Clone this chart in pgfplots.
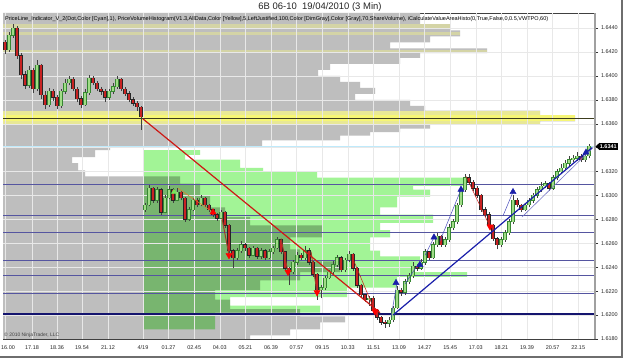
\documentclass[border=0pt]{standalone}
\usepackage{fontspec}
\setmainfont{Liberation Sans}
\usepackage{graphicx}
\usepackage{pgfplots}
\pgfplotsset{compat=1.18}
\usepackage{pgfplotstable}

\definecolor{histgray}{RGB}{190,190,190}
\definecolor{khaki}{RGB}{212,212,166}
\definecolor{yelA}{RGB}{232,232,150}
\definecolor{yelB}{RGB}{246,246,118}
\definecolor{lgreen}{RGB}{162,244,150}
\definecolor{navyl}{RGB}{85,85,160}
\definecolor{navyd}{RGB}{20,20,110}
\definecolor{upo}{RGB}{55,135,50}
\definecolor{upc}{RGB}{160,220,135}
\definecolor{dnc}{RGB}{200,35,35}
\definecolor{gridc}{RGB}{232,232,232}
\definecolor{redl}{RGB}{205,25,20}
\definecolor{bluel}{RGB}{25,30,170}
\definecolor{framec}{RGB}{110,110,110}

\pgfplotstableread{
x o h l c
9 1.6422 1.6437 1.6420 1.6434
13 1.6434 1.6443 1.6432 1.6440
29 1.6392 1.6408 1.6390 1.6405
37 1.6389 1.6413 1.6387 1.6409
49 1.6376 1.6390 1.6374 1.6387
61 1.6375 1.6389 1.6373 1.6387
65 1.6387 1.6397 1.6385 1.6394
69 1.6394 1.6400 1.6392 1.6397
85 1.6376 1.6389 1.6375 1.6386
89 1.6386 1.6401 1.6384 1.6398
109 1.6382 1.6389 1.6380 1.6387
113 1.6387 1.6394 1.6385 1.6391
117 1.6391 1.6400 1.6389 1.6397
145 1.6288 1.6294 1.6286 1.6292
149 1.6292 1.6309 1.6291 1.6306
157 1.6296 1.6307 1.6294 1.6305
165 1.6286 1.6300 1.6285 1.6298
169 1.6298 1.6308 1.6297 1.6305
177 1.6296 1.6306 1.6295 1.6303
189 1.6280 1.6290 1.6279 1.6288
193 1.6288 1.6298 1.6287 1.6296
201 1.6292 1.6300 1.6291 1.6298
221 1.6281 1.6288 1.6280 1.6286
237 1.6248 1.6256 1.6246 1.6254
241 1.6254 1.6262 1.6252 1.6259
253 1.6250 1.6258 1.6249 1.6256
261 1.6249 1.6256 1.6247 1.6254
269 1.6248 1.6255 1.6247 1.6253
273 1.6253 1.6258 1.6251 1.6256
277 1.6256 1.6265 1.6255 1.6263
293 1.6236 1.6246 1.6234 1.6244
297 1.6244 1.6253 1.6242 1.6250
305 1.6248 1.6258 1.6246 1.6254
321 1.6221 1.6225 1.6214 1.6223
325 1.6223 1.6233 1.6221 1.6231
329 1.6231 1.6238 1.6230 1.6236
333 1.6236 1.6245 1.6234 1.6242
337 1.6242 1.6250 1.6240 1.6248
345 1.6238 1.6248 1.6236 1.6246
349 1.6246 1.6254 1.6244 1.6251
369 1.6213 1.6216 1.6208 1.6214
389 1.6193 1.6198 1.6190 1.6196
393 1.6196 1.6208 1.6194 1.6206
397 1.6206 1.6224 1.6205 1.6221
405 1.6219 1.6230 1.6217 1.6228
409 1.6228 1.6235 1.6226 1.6233
413 1.6233 1.6244 1.6231 1.6241
421 1.6239 1.6247 1.6238 1.6244
425 1.6244 1.6255 1.6242 1.6253
433 1.6248 1.6261 1.6247 1.6259
437 1.6259 1.6269 1.6257 1.6266
445 1.6259 1.6265 1.6257 1.6263
449 1.6263 1.6276 1.6261 1.6273
453 1.6273 1.6280 1.6271 1.6278
457 1.6278 1.6294 1.6276 1.6292
461 1.6292 1.6307 1.6290 1.6305
465 1.6305 1.6318 1.6303 1.6315
501 1.6259 1.6265 1.6257 1.6263
505 1.6263 1.6271 1.6261 1.6269
509 1.6269 1.6280 1.6267 1.6278
513 1.6278 1.6300 1.6276 1.6296
525 1.6288 1.6294 1.6287 1.6292
529 1.6292 1.6298 1.6290 1.6296
533 1.6296 1.6302 1.6294 1.6300
537 1.6300 1.6307 1.6298 1.6305
541 1.6305 1.6311 1.6303 1.6308
545 1.6308 1.6312 1.6306 1.6310
553 1.6306 1.6317 1.6305 1.6315
557 1.6315 1.6322 1.6313 1.6320
561 1.6320 1.6326 1.6318 1.6323
565 1.6323 1.6330 1.6321 1.6327
569 1.6327 1.6333 1.6325 1.6330
573 1.6330 1.6334 1.6328 1.6331
577 1.6331 1.6336 1.6329 1.6333
585 1.6330 1.6336 1.6328 1.6333
589 1.6333 1.6343 1.6331 1.6341
}\upcandles

\pgfplotstableread{
x o h l c
5 1.6428 1.6430 1.6418 1.6422
17 1.6440 1.6442 1.6414 1.6417
21 1.6417 1.6419 1.6397 1.6401
25 1.6401 1.6404 1.6389 1.6392
33 1.6405 1.6407 1.6386 1.6389
41 1.6409 1.6410 1.6381 1.6384
45 1.6384 1.6387 1.6372 1.6376
53 1.6387 1.6389 1.6379 1.6382
57 1.6382 1.6384 1.6372 1.6375
73 1.6397 1.6399 1.6387 1.6389
77 1.6389 1.6391 1.6378 1.6381
81 1.6381 1.6383 1.6373 1.6376
93 1.6398 1.6400 1.6392 1.6394
97 1.6394 1.6396 1.6387 1.6389
101 1.6389 1.6391 1.6384 1.6387
105 1.6387 1.6389 1.6378 1.6382
121 1.6397 1.6398 1.6387 1.6389
125 1.6389 1.6391 1.6383 1.6385
129 1.6385 1.6387 1.6378 1.6380
133 1.6380 1.6382 1.6375 1.6377
137 1.6377 1.6379 1.6371 1.6374
141 1.6374 1.6375 1.6355 1.6366
153 1.6306 1.6307 1.6294 1.6296
161 1.6305 1.6306 1.6284 1.6286
173 1.6305 1.6306 1.6294 1.6296
181 1.6303 1.6304 1.6296 1.6298
185 1.6298 1.6299 1.6278 1.6280
197 1.6296 1.6298 1.6290 1.6292
205 1.6298 1.6299 1.6290 1.6292
209 1.6292 1.6293 1.6286 1.6288
213 1.6288 1.6289 1.6282 1.6284
217 1.6284 1.6285 1.6279 1.6281
225 1.6286 1.6287 1.6273 1.6275
229 1.6275 1.6276 1.6252 1.6254
233 1.6254 1.6255 1.6239 1.6248
245 1.6259 1.6260 1.6254 1.6256
249 1.6256 1.6257 1.6248 1.6250
257 1.6256 1.6257 1.6247 1.6249
265 1.6254 1.6255 1.6246 1.6248
281 1.6263 1.6264 1.6251 1.6253
285 1.6253 1.6254 1.6237 1.6239
289 1.6239 1.6240 1.6225 1.6236
301 1.6250 1.6252 1.6246 1.6248
309 1.6254 1.6256 1.6242 1.6244
313 1.6244 1.6245 1.6232 1.6234
317 1.6234 1.6235 1.6213 1.6221
341 1.6248 1.6249 1.6236 1.6238
353 1.6251 1.6252 1.6237 1.6239
357 1.6239 1.6240 1.6223 1.6225
361 1.6225 1.6226 1.6215 1.6217
365 1.6217 1.6218 1.6211 1.6213
373 1.6214 1.6216 1.6202 1.6204
377 1.6204 1.6205 1.6196 1.6198
381 1.6198 1.6199 1.6192 1.6194
385 1.6194 1.6196 1.6189 1.6193
401 1.6221 1.6223 1.6216 1.6219
417 1.6241 1.6243 1.6237 1.6239
429 1.6253 1.6254 1.6246 1.6248
441 1.6266 1.6267 1.6257 1.6259
469 1.6315 1.6318 1.6309 1.6311
473 1.6311 1.6313 1.6304 1.6306
477 1.6306 1.6308 1.6298 1.6300
481 1.6300 1.6301 1.6286 1.6288
485 1.6288 1.6290 1.6282 1.6284
489 1.6284 1.6286 1.6273 1.6275
493 1.6275 1.6276 1.6262 1.6264
497 1.6264 1.6265 1.6255 1.6259
517 1.6296 1.6298 1.6290 1.6292
521 1.6292 1.6293 1.6286 1.6288
549 1.6310 1.6311 1.6304 1.6306
581 1.6333 1.6335 1.6328 1.6330
}\downcandles

\begin{document}
\begin{tikzpicture}
\useasboundingbox (0,0) rectangle (625bp,361bp);
\fill[white] (0,0) rectangle (625bp,361bp);
\begin{axis}[
  scale only axis, width=592bp, height=326bp,
  at={(3bp,22bp)}, anchor=south west,
  xmin=3, xmax=595, ymin=1.618, ymax=1.64526,
  axis background/.style={fill=white},
  axis line style={draw=black!75, line width=0.6bp},
  xtick={5,32,57,82,108,143,168.6,194.2,219.8,245.4,271,296.6,322.2,347.8,373.4,399,424.6,450.2,475.8,501.4,527,552.6,578.2},
  xticklabels={{\hspace*{6bp}16.00},17.18,18.36,19.54,21.12,4/19,01.27,02.45,04.03,05.21,06.39,07.57,09.15,10.33,11.51,13.09,14.27,15.45,17.03,18.21,19.39,20.57,22.15},
  xtick style={draw=none},
  ytick={1.618,1.620,1.622,1.624,1.626,1.628,1.630,1.632,1.634,1.636,1.638,1.640,1.642,1.644},
  yticklabels={1.6180,1.6200,1.6220,1.6240,1.6260,1.6280,1.6300,1.6320,1.6340,1.6360,1.6380,1.6400,1.6420,1.6440},
  scaled y ticks=false,
  ytick pos=right, yticklabel pos=right,
  tick align=outside, major tick length=3bp,
  ytick style={draw=black!80, line width=0.4bp},
  tick label style={font=\fontsize{5.5}{6}\selectfont, text=black!85},
  yticklabel style={xshift=-0.5bp},
]
% session 1 volume histogram (gray)
\addplot[fill=histgray, draw=none] coordinates {
(3,1.64526) (420,1.64526) (420,1.6443) (450,1.6443) (450,1.6438) (460,1.6438) (460,1.6433)
(430,1.6433) (430,1.6428) (390,1.6428) (390,1.6423) (487,1.6423) (487,1.6419) (420,1.6419)
(420,1.6415) (400,1.6415) (400,1.6410) (330,1.6410) (330,1.6405) (318,1.6405) (318,1.6400)
(340,1.6400) (340,1.6395) (360,1.6395) (360,1.6390) (375,1.6390) (375,1.6385) (355,1.6385)
(355,1.6380) (410,1.6380) (410,1.6375) (425,1.6375) (425,1.6371) (540,1.6371) (540,1.6367)
(575,1.6367) (575,1.6362) (540,1.6362) (540,1.6360) (430,1.6360) (430,1.6356) (400,1.6356)
(400,1.6353) (370,1.6353) (370,1.6350) (340,1.6350) (340,1.6346) (262,1.6346) (262,1.6341)
(110,1.6341) (110,1.6338) (95,1.6338) (95,1.6332) (72,1.6332) (72,1.6327) (78,1.6327)
(78,1.6321) (85,1.6321) (85,1.6316) (180,1.6316) (180,1.6310) (200,1.6310) (200,1.6300)
(210,1.6300) (210,1.6290) (225,1.6290) (225,1.6282) (250,1.6282) (250,1.6275) (322,1.6275)
(322,1.6265) (290,1.6265) (290,1.6255) (300,1.6255) (300,1.6245) (340,1.6245) (340,1.6236)
(300,1.6236) (300,1.6229) (260,1.6229) (260,1.6221) (215,1.6221) (215,1.6213) (230,1.6213)
(230,1.6205) (300,1.6205) (300,1.6199) (345,1.6199) (345,1.6194) (320,1.6194) (320,1.6188)
(290,1.6188) (290,1.6183) (250,1.6183) (250,1.6180) (3,1.6180)};
% value-area rows of session 1
\addplot[fill=khaki, draw=none] coordinates {(3,1.6443) (450,1.6443) (450,1.6440) (3,1.6440)};
\addplot[fill=khaki, draw=none] coordinates {(3,1.6437) (460,1.6437) (460,1.6434) (3,1.6434)};
\addplot[fill=khaki, draw=none] coordinates {(3,1.6422) (487,1.6422) (487,1.6419) (3,1.6419)};
\addplot[fill=yelA, draw=none] coordinates {(3,1.6371) (540,1.6371) (540,1.6367) (3,1.6367)};
\addplot[fill=yelB, draw=none] coordinates {(3,1.6367) (575,1.6367) (575,1.6362) (3,1.6362)};
\addplot[fill=yelA, draw=none] coordinates {(3,1.6362) (540,1.6362) (540,1.6359) (3,1.6359)};
% session 2 volume histogram (green)
\addplot[fill=lgreen, draw=none, blend mode=multiply] coordinates {
(143,1.6338) (200,1.6338) (200,1.6334) (185,1.6334) (185,1.6330) (240,1.6330) (240,1.6323)
(263,1.6323) (263,1.6320) (317,1.6320) (317,1.6315) (465,1.6315) (465,1.6308) (413,1.6308)
(413,1.6305) (430,1.6305) (430,1.6299) (397,1.6299) (397,1.6290) (380,1.6290) (380,1.6284)
(433,1.6284) (433,1.6277) (380,1.6277) (380,1.6271) (390,1.6271) (390,1.6265) (370,1.6265)
(370,1.6254) (380,1.6254) (380,1.6249) (420,1.6249) (420,1.6240) (413,1.6240) (413,1.6236)
(467,1.6236) (467,1.6232) (397,1.6232) (397,1.6223) (347,1.6223) (347,1.6215) (230,1.6215)
(230,1.6208) (320,1.6208) (320,1.6202) (215,1.6202) (215,1.6188) (143,1.6188)};
% grid
\pgfplotsinvokeforeach{5,32,57,82,108,143,168.6,194.2,219.8,245.4,271,296.6,322.2,347.8,373.4,399,424.6,450.2,475.8,501.4,527,552.6,578.2}{
  \draw[gridc, line width=0.5bp] (axis cs:#1,1.618) -- (axis cs:#1,1.64526);}
\pgfplotsinvokeforeach{1.620,1.622,1.624,1.626,1.628,1.630,1.632,1.634,1.636,1.638,1.640,1.642,1.644}{
  \draw[gridc, line width=0.4bp] (axis cs:3,#1) -- (axis cs:595,#1);}
% level lines
\addplot[color={rgb,255:red,60;green,60;blue,30}, line width=0.9bp] coordinates {(3,1.63648) (595,1.63648)};
\addplot[navyl, line width=0.7bp] coordinates {(3,1.6309) (595,1.6309)};
\addplot[navyl, line width=0.7bp] coordinates {(3,1.6283) (595,1.6283)};
\addplot[navyl, line width=0.7bp] coordinates {(3,1.62695) (595,1.62695)};
\addplot[navyl, line width=0.7bp] coordinates {(3,1.6246) (595,1.6246)};
\addplot[navyl, line width=0.7bp] coordinates {(3,1.6233) (595,1.6233)};
\addplot[navyl, line width=0.7bp] coordinates {(3,1.62185) (595,1.62185)};
\addplot[navyd, line width=1.3bp] coordinates {(3,1.6201) (595,1.6201)};
\addplot[cyan!25, line width=0.5bp] coordinates {(3,1.6341) (595,1.6341)};
% candles: wicks (low to high)
\addplot[draw=black!75, line width=0.6bp, -, mark=none, quiver={u=0, v=\thisrow{h}-\thisrow{l}}]
  table[x=x, y=l] {\upcandles};
\addplot[draw=black!75, line width=0.6bp, -, mark=none, quiver={u=0, v=\thisrow{h}-\thisrow{l}}]
  table[x=x, y=l] {\downcandles};
% candles: bodies (open to close)
\addplot[draw=upo, line width=3.6bp, -, mark=none, quiver={u=0, v=\thisrow{c}-\thisrow{o}+0.00006}]
  table[x=x, y expr=\thisrow{o}-0.00003] {\upcandles};
\addplot[draw=upc, line width=2.2bp, -, mark=none, quiver={u=0, v=\thisrow{c}-\thisrow{o}}]
  table[x=x, y=o] {\upcandles};
\addplot[draw=black!85, line width=3.6bp, -, mark=none, quiver={u=0, v=\thisrow{c}-\thisrow{o}-0.00006}]
  table[x=x, y expr=\thisrow{o}+0.00003] {\downcandles};
\addplot[draw=dnc, line width=2.4bp, -, mark=none, quiver={u=0, v=\thisrow{c}-\thisrow{o}}]
  table[x=x, y=o] {\downcandles};
% zigzag legs
\addplot[color={rgb,255:red,235;green,120;blue,40}, line width=0.5bp] coordinates {(178,1.6306) (213,1.6286)};
\addplot[color={rgb,255:red,160;green,60;blue,40}, line width=1bp] coordinates {(222,1.6281) (229,1.6250)};
\addplot[color={rgb,255:red,160;green,60;blue,40}, line width=1bp] coordinates {(281,1.6264) (288,1.6236)};
\addplot[color={rgb,255:red,160;green,60;blue,40}, line width=1bp] coordinates {(311,1.6253) (317,1.6219)};
\addplot[color=redl, line width=0.5bp] coordinates {(352,1.6249) (375,1.6203)};
\addplot[color=redl, line width=0.5bp] coordinates {(466,1.6316) (490,1.6274)};
\addplot[color=bluel!80, line width=0.5bp] coordinates {(391,1.6198) (397,1.6227)};
\addplot[color=bluel!80, line width=0.5bp] coordinates {(405,1.6226) (420,1.6245)};
\addplot[color=bluel!80, line width=0.5bp] coordinates {(425,1.6250) (434,1.6265)};
\addplot[color=bluel!80, line width=0.5bp] coordinates {(440,1.6262) (461,1.6305)};
\addplot[color=bluel!80, line width=0.5bp] coordinates {(503,1.6283) (513,1.6303)};
\addplot[color={rgb,255:red,120;green,120;blue,200}, line width=0.6bp] coordinates {(522,1.6282) (593,1.6340)};
% trend lines
\addplot[color=redl, line width=1.2bp] coordinates {(143,1.6364) (380,1.6202)};
\addplot[color=bluel, line width=1.2bp] coordinates {(393,1.6200) (592,1.6340)};
% markers
\addplot[only marks, mark=triangle*, mark size=3.6bp, color=red, mark options={rotate=180}]
  coordinates {(229,1.6250) (288,1.6236) (317,1.6219) (375,1.6203) (490,1.6274)};
\addplot[only marks, mark=triangle*, mark size=3.6bp, color=red]
  coordinates {(213,1.6286)};
\addplot[only marks, mark=triangle*, mark size=3.6bp, color=bluel]
  coordinates {(396,1.6227) (420,1.6242) (434,1.6265) (461,1.6305) (513,1.6303) (586,1.6336)};
\addplot[only marks, mark=triangle*, mark size=3bp, color={rgb,255:red,120;green,230;blue,90}]
  coordinates {(174,1.6303)};
\coordinate (pl) at (axis cs:595,1.6341);
\end{axis}
% right axis band
\draw[color={rgb,255:red,160;green,160;blue,160}, line width=1.6bp] (595bp,22bp) -- (595bp,348bp);
% price marker
\fill[black] ([xshift=0.5bp]pl) -- ++(4bp,3.6bp) -- ++(0,-7.2bp) -- cycle;
\node[fill=black, text=white, anchor=west, inner xsep=1.2bp, inner ysep=1.3bp,
  font=\fontsize{5.5}{6}\selectfont\bfseries] at ([xshift=3.5bp]pl) {1.6341};
% texts
\node[font=\fontsize{9.5}{11}\selectfont, text=black!85] at (320bp,354bp) {6B 06-10\ \ 19/04/2010 (3 Min)};
\node[anchor=west, inner sep=0pt] at (5bp,342bp) {\resizebox{543bp}{!}{\fontsize{5}{6}\selectfont PriceLine\_Indicator\_V\_2(Dot,Color [Cyan],1), PriceVolumeHistogram(V1.3,AllData,Color [Yellow],5,LeftJustified,100,Color [DimGray],Color [Gray],70,ShareVolume), iCalculateValueAreaHisto(0,True,False,0,0.5,VWTPO,60)}};
\node[anchor=west, inner sep=0pt, font=\fontsize{5}{6}\selectfont, text=black!75] at (4bp,26bp) {\textcopyright\ 2010 NinjaTrader, LLC};
% outer frame
\draw[framec, line width=2bp] (0,4bp) -- (622bp,4bp) -- (622bp,361bp);
\end{tikzpicture}
\end{document}
